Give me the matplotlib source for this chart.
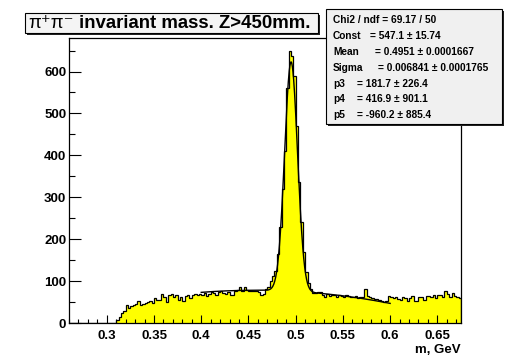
import numpy as np
import matplotlib
matplotlib.use("Agg")
import matplotlib.pyplot as plt
from matplotlib.patches import Rectangle
from matplotlib.ticker import MultipleLocator

# ---------------- data ----------------
bin_start = 0.26
bin_width = 0.0025
counts = [
    0, 0, 0, 0, 0, 0, 0, 0, 0, 0,
    0, 0, 0, 0, 0, 0, 0, 0, 0, 0,
    7, 15, 23, 29, 43, 35, 41, 43, 45, 53,
    43, 46, 48, 50, 52, 48, 60, 56, 56, 69,
    62, 50, 66, 69, 61, 67, 56, 62, 52, 64,
    66, 60, 68, 70, 66, 70, 68, 72, 64, 70,
    74, 72, 66, 74, 76, 72, 70, 74, 66, 68,
    76, 78, 86, 76, 86, 78, 76, 77, 76, 76,
    74, 68, 70, 80, 86, 100, 112, 125, 165, 230,
    320, 410, 560, 648, 638, 590, 470, 337, 240, 170,
    122, 95, 82, 72, 72, 74, 74, 66, 62, 70,
    64, 68, 68, 62, 66, 64, 62, 66, 64, 62,
    63, 64, 60, 62, 62, 81, 64, 62, 60, 58,
    58, 56, 52, 50, 52, 64, 62, 60, 62, 58,
    56, 62, 60, 52, 60, 64, 52, 52, 62, 62,
    55, 64, 64, 62, 68, 60, 68, 68, 62, 76,
    70, 62, 72, 64, 62, 60,
]

# fit (from the stats box) and background
gaus_const = 547.1
gaus_mean = 0.4951
gaus_sigma = 0.006841
bg_x = [0.45, 0.52, 0.59]
bg_y = [78, 72, 51]
fit_range = (0.40, 0.60)

title_sym = "\u03c0\u207a\u03c0\u207b"
title_rest = " invariant mass. Z>450mm."
stat_labels = ["Const", "Mean", "Sigma", "p3", "p4", "p5"]
stat_values = ["= 547.1 \u00b1 15.74", "= 0.4951 \u00b1 0.0001667",
               "= 0.006841 \u00b1 0.0001765", "= 181.7 \u00b1 226.4",
               "= 416.9 \u00b1 901.1", "= -960.2 \u00b1 885.4"]
stat_header = "Chi2 / ndf = 69.17 / 50"
xlabel = "m, GeV"

# ---------------- figure ----------------
W, H = 515, 358
fig = plt.figure(figsize=(W / 100, H / 100), dpi=100)
fig.patch.set_facecolor("white")
FONT = ["Liberation Sans", "DejaVu Sans"]
plt.rcParams["font.family"] = FONT

def fx(px):
    return px / W

def fy(py):
    return 1 - py / H

ax = fig.add_axes([fx(69), fy(323), fx(461) - fx(69), fy(38) - fy(323)])

edges = bin_start + bin_width * np.arange(len(counts) + 1)
ax.stairs(counts, edges, fill=True, color="#ffff00", zorder=1)
ax.stairs(counts, edges, color="black", lw=0.9, zorder=2)

coef = np.polyfit(bg_x, bg_y, 2)
xf = np.linspace(fit_range[0], fit_range[1], 600)
yf = gaus_const * np.exp(-0.5 * ((xf - gaus_mean) / gaus_sigma) ** 2) + np.polyval(coef, xf)
ax.plot(xf, yf, color="black", lw=1.0, zorder=3)

ax.set_xlim(0.26, 0.675)
ax.set_ylim(0, 680)
ax.xaxis.set_minor_locator(MultipleLocator(0.01))
ax.yaxis.set_major_locator(MultipleLocator(100))
ax.yaxis.set_minor_locator(MultipleLocator(50))
ax.set_xticks([0.3, 0.35, 0.4, 0.45, 0.5, 0.55, 0.6, 0.65])
ax.set_xticklabels(["0.3", "0.35", "0.4", "0.45", "0.5", "0.55", "0.6", "0.65"])
ax.tick_params(axis="x", which="major", direction="in", length=6.1, width=0.8,
               pad=5, labelsize=9.5, top=False)
ax.tick_params(axis="x", which="minor", direction="in", length=3.1, width=0.8, top=False)
ax.tick_params(axis="y", which="major", direction="in", length=8.5, width=0.8,
               pad=2, labelsize=9.5, right=False)
ax.tick_params(axis="y", which="minor", direction="in", length=4.2, width=0.8, right=False)
for lab in ax.get_xticklabels() + ax.get_yticklabels():
    lab.set_fontweight("bold")
for s in ax.spines.values():
    s.set_linewidth(0.9)
    s.set_color("black")

fig.text(fx(461), fy(350), xlabel, ha="right", va="center", fontsize=9.5,
         fontweight="bold")

# ---------------- boxes ----------------
def box(x0, y0, x1, y1, face):
    sh = Rectangle((fx(x0 + 2), fy(y1 + 2)), fx(x1) - fx(x0), fy(y0) - fy(y1),
                   transform=fig.transFigure, facecolor="#222222", edgecolor="none",
                   zorder=10)
    fig.add_artist(sh)
    r = Rectangle((fx(x0), fy(y1)), fx(x1) - fx(x0), fy(y0) - fy(y1),
                  transform=fig.transFigure, facecolor=face, edgecolor="black",
                  lw=0.8, zorder=11)
    fig.add_artist(r)
    return r

box(25, 13, 318, 33, "#f4f4f4")
t_sym = fig.text(fx(28), fy(23.5), title_sym, ha="left", va="center",
                 fontsize=13.4, fontweight="normal", zorder=12)
renderer = fig.canvas.get_renderer()
bb = t_sym.get_window_extent(renderer=renderer)
fig.text(bb.x1 / W, fy(23.5), title_rest, ha="left", va="center", fontsize=13.4,
         fontweight="bold", zorder=12)

sbox = box(326, 9, 502, 124, "#f0f0f0")
line_y = [20, 36, 51.7, 68.3, 84, 99.3, 115]
val_x = [370, 375, 378.5, 357, 357, 357]
fig.text(fx(333), fy(line_y[0]), stat_header, ha="left", va="center",
         fontsize=7.3, fontweight="bold", zorder=12)
for lab, val, yy, vx in zip(stat_labels, stat_values, line_y[1:], val_x):
    fig.text(fx(333), fy(yy), lab, ha="left", va="center", fontsize=7.3,
             fontweight="bold", zorder=12)
    tv = fig.text(fx(vx), fy(yy), val, ha="left", va="center", fontsize=7.3,
                  fontweight="bold", zorder=12)
    tv.set_clip_path(sbox)

fig.savefig("out.png", dpi=100)
